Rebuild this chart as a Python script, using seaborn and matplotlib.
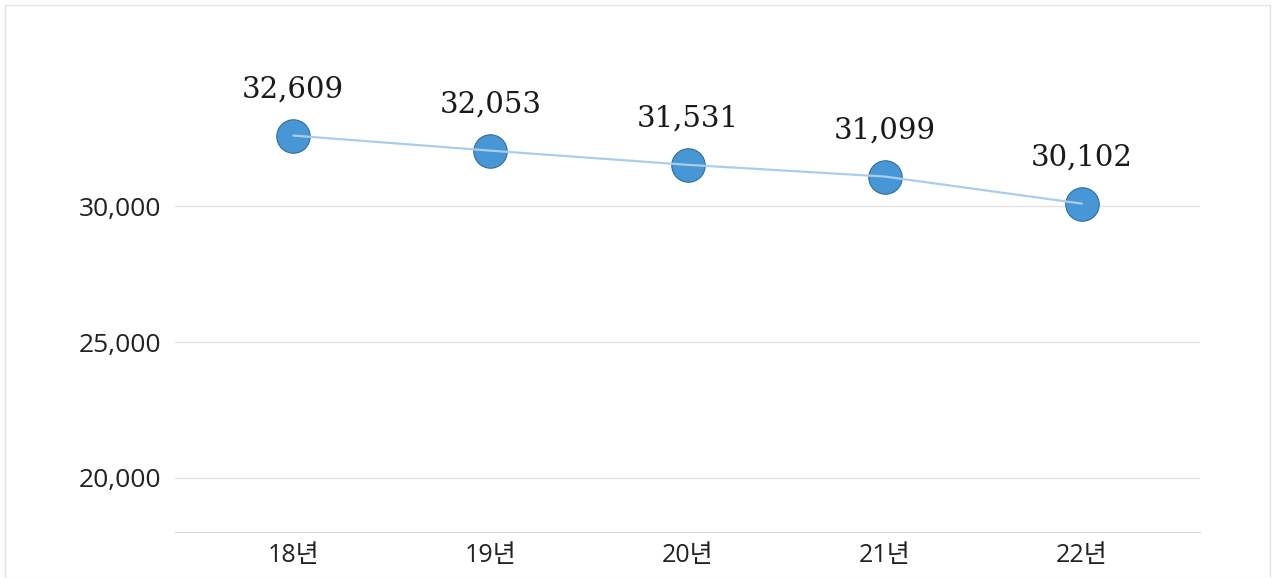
import matplotlib
matplotlib.use("Agg")
import matplotlib.pyplot as plt
from matplotlib.patches import Rectangle
import seaborn as sns
import pandas as pd

years = ["18년", "19년", "20년", "21년", "22년"]
values = [32609, 32053, 31531, 31099, 30102]
y_ticks = [20000, 25000, 30000]

sns.set_style("white")
plt.rcParams['font.family'] = ['Open Sans', 'Noto Sans CJK KR', 'DejaVu Sans']

df = pd.DataFrame({"year": years, "value": values})

fig = plt.figure(figsize=(12.76, 5.78), dpi=100)
ax = fig.add_axes([175 / 1276, 46 / 578, 1025 / 1276, 527 / 578])

# markers first, line on top (as in the original)
sns.scatterplot(data=df, x="year", y="value", ax=ax, s=580, color="#4796d5",
                edgecolor="#2f6e9f", linewidth=0.8, zorder=3, legend=False)
sns.lineplot(data=df, x="year", y="value", ax=ax, color="#a9cdea",
             linewidth=1.6, zorder=4, legend=False)

for i, v in enumerate(values):
    ax.annotate(f"{v:,}", (i, v), xytext=(0, 23), textcoords="offset points",
                ha="center", va="bottom", fontsize=21, color="#1a1a1a",
                family=["DejaVu Serif"])

ax.set_xlim(-0.6, 4.6)
ax.set_ylim(18000, 37420)
ax.set_yticks(y_ticks)
ax.set_yticklabels([f"{t:,}" for t in y_ticks])
ax.yaxis.grid(True, color="#e2e2e2", linewidth=1)
ax.set_axisbelow(True)
ax.set_xlabel("")
ax.set_ylabel("")
for s in ["top", "right", "left"]:
    ax.spines[s].set_visible(False)
ax.spines["bottom"].set_color("#d8d8d8")
ax.tick_params(axis="y", length=0, pad=10, labelsize=19, labelcolor="#222222")
ax.tick_params(axis="x", length=3, color="#d8d8d8", pad=5, labelsize=18,
               labelcolor="#222222")

fig.patches.append(Rectangle((5 / 1276, 0), 1265 / 1276, 573 / 578,
                             transform=fig.transFigure, fill=False,
                             edgecolor="#e4e4e4", linewidth=1))

fig.savefig("out.png", dpi=100)
